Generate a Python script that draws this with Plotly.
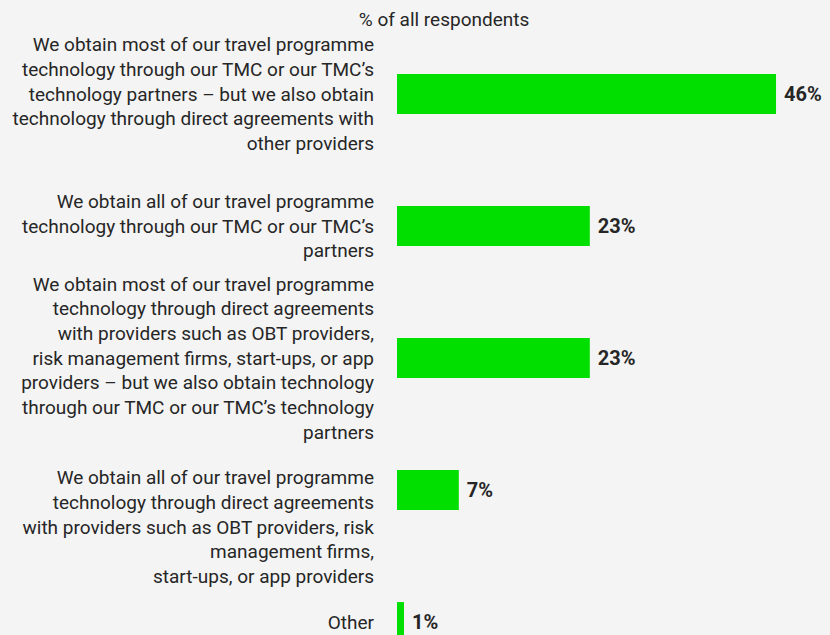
import plotly.graph_objects as go

categories = [
    "We obtain most of our travel programme<br>technology through our TMC or our TMC’s<br>technology partners – but we also obtain<br>technology through direct agreements with<br>other providers",
    "We obtain all of our travel programme<br>technology through our TMC or our TMC’s<br>partners",
    "We obtain most of our travel programme<br>technology through direct agreements<br>with providers such as OBT providers,<br>risk management firms, start-ups, or app<br>providers – but we also obtain technology<br>through our TMC or our TMC’s technology<br>partners",
    "<br><br><br>We obtain all of our travel programme<br>technology through direct agreements<br>with providers such as OBT providers, risk<br>management firms,<br>start-ups, or app providers",
    "Other",
]
values = [46, 23.4, 23.4, 7.5, 0.85]
value_labels = ["46%", "23%", "23%", "7%", "1%"]
title_text = "% of all respondents"

BG = "#f4f4f4"
GREEN = "#00df00"
TXT = "#262626"
FONT = "Roboto"

fig = go.Figure(
    go.Bar(
        x=values,
        y=categories,
        orientation="h",
        marker=dict(color=GREEN, line=dict(width=0)),
        width=0.303,
        text=[" " + t for t in value_labels],
        textposition="outside",
        textfont=dict(family=FONT, size=20, color=TXT, weight="bold"),
        cliponaxis=False,
        hoverinfo="skip",
    )
)

fig.update_layout(
    width=830,
    height=635,
    paper_bgcolor=BG,
    plot_bgcolor=BG,
    margin=dict(l=397, r=0, t=60, b=0),
    showlegend=False,
    font=dict(family=FONT, size=19, color=TXT),
    title=dict(
        text=title_text,
        x=0.535,
        xanchor="center",
        xref="container",
        y=0.97,
        yanchor="middle",
        yref="container",
        font=dict(family=FONT, size=19, color=TXT),
    ),
    xaxis=dict(
        range=[0, 52.55],
        visible=False,
        showgrid=False,
        zeroline=False,
    ),
    yaxis=dict(
        type="category",
        range=[4.098, -0.2576],
        showgrid=False,
        zeroline=False,
        showline=False,
        ticks="",
        ticklabelstandoff=22,
        tickfont=dict(family=FONT, size=19, color=TXT),
    ),
)

fig.write_html(
    "out.html",
    config={"displayModeBar": False},
    post_script="document.body.style.margin='0';document.body.style.background='#f4f4f4';",
)
